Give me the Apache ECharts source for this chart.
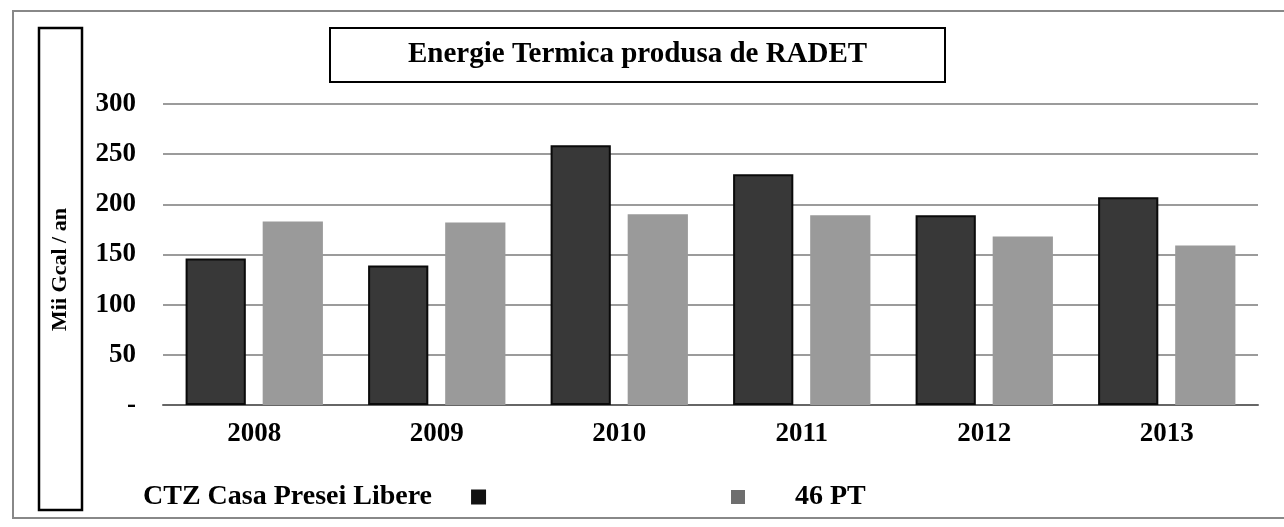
<!DOCTYPE html>
<html>
<head>
<meta charset="utf-8">
<script src="https://cdn.jsdelivr.net/npm/echarts@6/dist/echarts.min.js"></script>
<style>
html,body{margin:0;padding:0;background:#fff;}
#chart{width:1284px;height:527px;}
</style>
</head>
<body>
<div id="chart"></div>
<script>
var categories = ['2008', '2009', '2010', '2011', '2012', '2013'];
var ctzValues = [146, 139, 259, 230, 189, 207];
var ptValues = [183, 182, 190, 189, 168, 159];
var seriesNames = ['CTZ Casa Presei Libere', '46 PT'];
var yTicks = { min: 0, max: 300, interval: 50 };
var titleText = 'Energie Termica produsa de RADET';
var yName = 'Mii Gcal / an';

var FONT = '"Liberation Serif", "DejaVu Serif", serif';
var chart = echarts.init(document.getElementById('chart'), null, { renderer: 'canvas' });

chart.setOption({
  backgroundColor: '#ffffff',
  animation: false,
  title: {
    text: titleText,
    left: 330,
    top: 28,
    padding: [13, 78],
    borderColor: '#000',
    borderWidth: 2,
    textStyle: { fontFamily: FONT, fontWeight: 'bold', fontSize: 29, color: '#000', lineHeight: 28 }
  },
  graphic: [
    { type: 'rect', shape: { x: 13, y: 11, width: 1290, height: 507 }, style: { fill: 'none', stroke: '#888', lineWidth: 2 }, silent: true },
    { type: 'rect', shape: { x: 39, y: 28, width: 43, height: 482 }, style: { fill: 'none', stroke: '#000', lineWidth: 2.5 }, silent: true }
  ],
  legend: [
    {
      data: [seriesNames[0]],
      left: 138,
      top: 478,
      align: 'right',
      itemWidth: 15,
      itemHeight: 15,
      icon: 'rect',
      itemStyle: { color: '#111', borderWidth: 0 },
      textStyle: { fontFamily: FONT, fontWeight: 'bold', fontSize: 28, color: '#000', padding: [0, 34, 0, 0] }
    },
    {
      data: [seriesNames[1]],
      left: 726,
      top: 478,
      align: 'left',
      itemWidth: 14,
      itemHeight: 14,
      icon: 'rect',
      itemStyle: { color: '#6e6e6e' },
      textStyle: { fontFamily: FONT, fontWeight: 'bold', fontSize: 28, color: '#000', padding: [0, 0, 0, 45] }
    }
  ],
  grid: { left: 163, right: 26, top: 104, bottom: 122, containLabel: false },
  xAxis: {
    type: 'category',
    data: categories,
    axisTick: { show: false },
    axisLine: { lineStyle: { color: '#666', width: 2 } },
    axisLabel: { margin: 16, fontFamily: FONT, fontWeight: 'bold', fontSize: 27, color: '#000' }
  },
  yAxis: {
    type: 'value',
    min: yTicks.min,
    max: yTicks.max,
    interval: yTicks.interval,
    name: yName,
    nameLocation: 'middle',
    nameRotate: 90,
    nameGap: 92,
    nameTextStyle: { fontFamily: FONT, fontWeight: 'bold', fontSize: 22, color: '#000', padding: [0, 30, 0, 0] },
    axisLine: { show: false },
    axisTick: { show: false },
    splitLine: { lineStyle: { color: '#7a7a7a', width: 1.5 } },
    axisLabel: {
      margin: 27,
      fontFamily: FONT, fontWeight: 'bold', fontSize: 27, color: '#000',
      formatter: function (v) { return v === 0 ? '-' : String(v); }
    }
  },
  series: [
    {
      name: seriesNames[0],
      type: 'bar',
      data: ctzValues,
      barWidth: '33%',
      barGap: '28%',
      itemStyle: { color: '#383838', borderColor: '#0a0a0a', borderWidth: 2 }
    },
    {
      name: seriesNames[1],
      type: 'bar',
      data: ptValues,
      barWidth: '33%',
      itemStyle: { color: '#9a9a9a' }
    }
  ]
});
</script>
</body>
</html>
